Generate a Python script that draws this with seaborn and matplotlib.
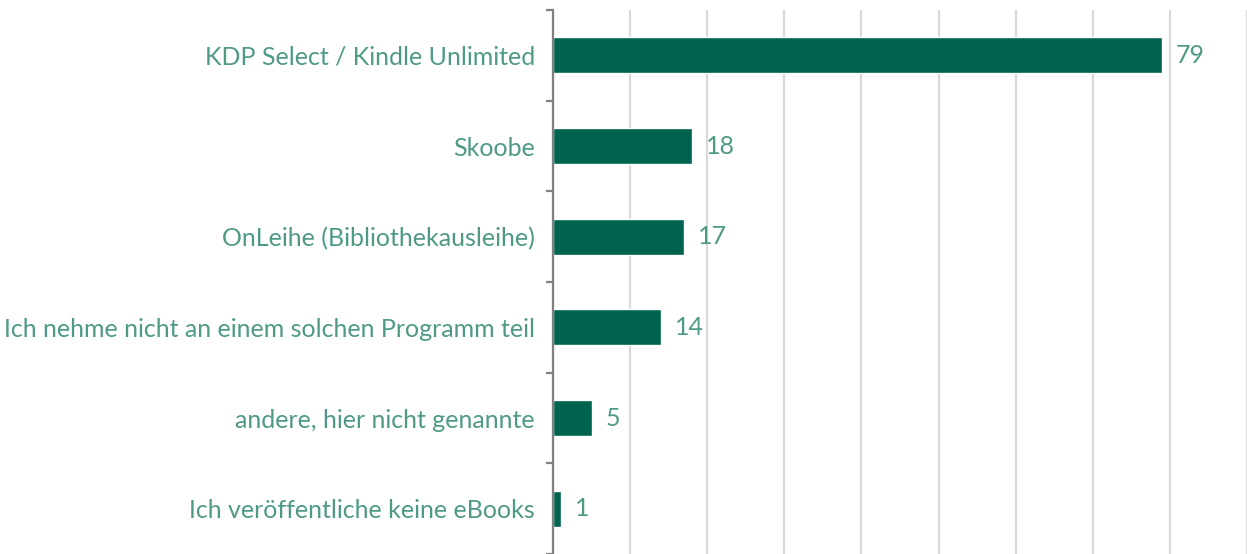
import numpy as np
import pandas as pd
import seaborn as sns
import matplotlib.pyplot as plt
from matplotlib.ticker import FixedLocator, MultipleLocator

# survey answers and counts
categories = [
    "KDP Select / Kindle Unlimited",
    "Skoobe",
    "OnLeihe (Bibliothekausleihe)",
    "Ich nehme nicht an einem solchen Programm teil",
    "andere, hier nicht genannte",
    "Ich veröffentliche keine eBooks",
]
counts = [79, 18, 17, 14, 5, 1]

BAR_COLOR = "#00634f"
TEXT_COLOR = "#4f9a86"

sns.set_style("white")
plt.rcParams['font.family'] = ['Lato', 'DejaVu Sans']

df = pd.DataFrame({'Programm': categories, 'Anzahl': counts})

fig = plt.figure(figsize=(12.47, 5.54), dpi=100)
ax = fig.add_axes([553 / 1247, 0.0, 1 - 553 / 1247, 1 - 10 / 554])

sns.barplot(data=df, y='Programm', x='Anzahl', orient='h', color=BAR_COLOR,
            width=0.4, saturation=1, ax=ax)

ax.set_xlim(0, 90)
ax.set_ylim(len(categories) - 0.5, -0.5)
ax.xaxis.set_major_locator(MultipleLocator(10))
ax.grid(axis='x', color='#d9d9d9', linewidth=1.6)
ax.set_axisbelow(True)
ax.set_xticklabels([])
ax.tick_params(axis='x', length=0)
ax.set_xlabel('')
ax.set_ylabel('')

for s in ['top', 'right', 'bottom']:
    ax.spines[s].set_visible(False)
ax.spines['left'].set_color('#808080')
ax.spines['left'].set_linewidth(1.6)

# labels on major ticks, small tick marks between categories
ax.tick_params(axis='y', which='major', length=0, pad=13, labelsize=18,
               labelcolor=TEXT_COLOR)
ax.yaxis.set_minor_locator(FixedLocator(np.arange(-0.5, len(categories), 1)))
ax.tick_params(axis='y', which='minor', length=5, width=1.6, color='#808080',
               direction='out', left=True)

for i, v in enumerate(counts):
    ax.annotate(str(v), xy=(v, i), xytext=(10, 0), textcoords='offset points',
                va='center', ha='left', fontsize=18, color=TEXT_COLOR)

fig.savefig('out.png', dpi=100)
